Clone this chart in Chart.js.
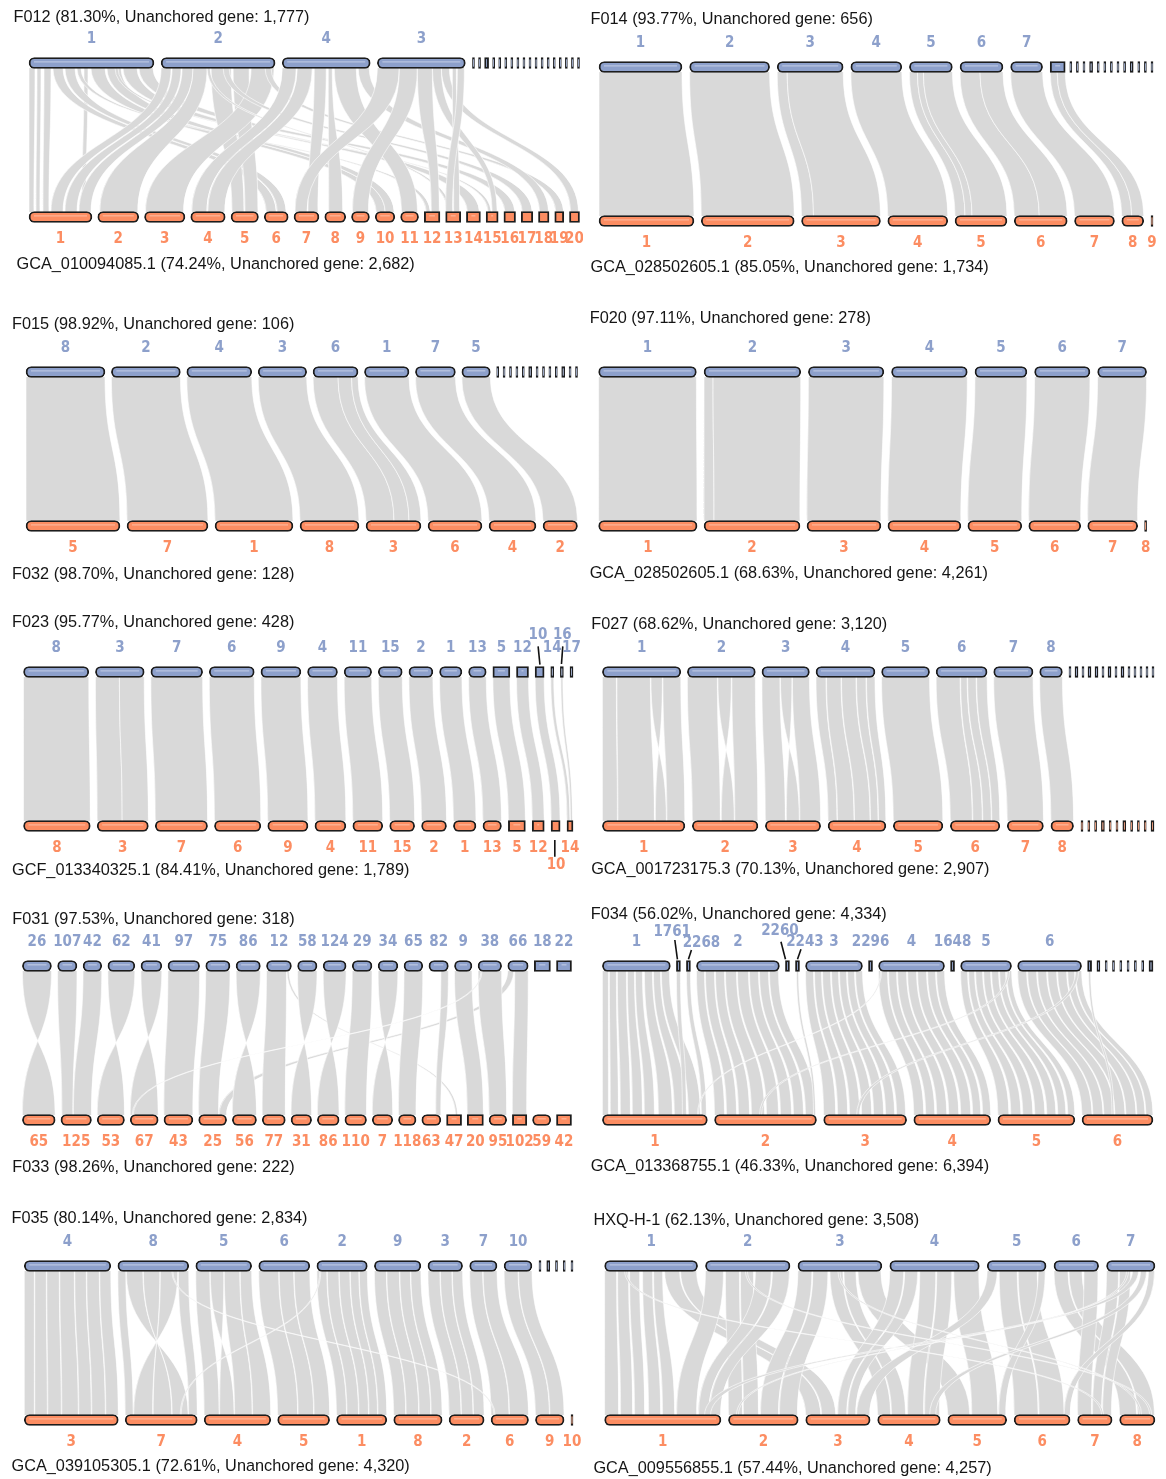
<!DOCTYPE html>
<html>
<head>
<meta charset="utf-8">
<title>Pairwise synteny overview</title>
<script src="https://cdn.jsdelivr.net/npm/chart.js@4.4.1/dist/chart.umd.min.js"></script>
<style>
  html, body { margin: 0; padding: 0; background: #ffffff; }
  #page { position: relative; width: 1166px; height: 1479px; overflow: hidden; background: #ffffff; }
  #page canvas { position: absolute; }
</style>
</head>
<body>
<div id="page"></div>
<script>
// Chromosome lengths are relative units; links are
// [topChromIndex, topStart, topEnd, bottomChromIndex, bottomStart, bottomEnd]
// with positions measured from the start of each chromosome.
// Indexes run over named chromosomes first, then unplaced scaffolds.

// ---------- F012 / GCA_010094085.1 ----------
const f012Title = 'F012 (81.30%, Unanchored gene: 1,777)';
const f012Sub = 'GCA_010094085.1 (74.24%, Unanchored gene: 2,682)';
const f012TopNames = ['1', '2', '4', '3'];
const f012TopLen = [125, 114, 88, 88];
const f012TopUnplaced = [2, 2, 4, 2, 2, 2, 2, 2, 2, 2, 2, 2, 2, 2, 2, 2, 2, 2];
const f012BotNames = ['1','2','3','4','5','6','7','8','9','10','11','12','13','14','15','16','17','18','19','20'];
const f012BotLen = [63, 41, 40.5, 34.5, 27.5, 24, 25, 21, 18, 19.6, 18, 15.6, 15, 14, 12, 11.6, 11.5, 10.5, 9, 10];
const f012BotUnplaced = [];
const f012Links = [
  [0, 0, 6, 0, 0, 5], [0, 8, 12, 0, 7, 11], [0, 15, 22, 0, 14, 20], [0, 55, 59, 0, 53, 57],
  [0, 24, 34, 5, 2, 12], [0, 36, 46, 5, 13, 22], [0, 62, 76, 9, 1, 10], [0, 78, 92, 9, 10, 19],
  [0, 94, 108, 13, 1, 13], [0, 110, 124, 15, 1, 11], [0, 48, 52, 11, 2, 6], [0, 86, 89, 14, 2, 5],
  [1, 0, 10, 0, 22, 34], [1, 11, 20, 0, 36, 48], [1, 21, 32, 0, 50, 62],
  [1, 32, 46, 1, 2, 40], [1, 50, 70, 4, 1, 13], [1, 72, 88, 4, 14, 27], [1, 90, 113, 2, 1, 39],
  [1, 62, 68, 16, 1, 11], [1, 104, 110, 18, 1, 9], [1, 46, 49, 12, 2, 5],
  [2, 0, 14, 3, 1, 16], [2, 15, 30, 3, 17, 34], [2, 46, 50, 7, 4, 18], [2, 52, 74, 10, 1, 17],
  [2, 76, 87, 17, 1, 10], [2, 32, 44, 6, 14, 24],
  [3, 0, 22, 6, 1, 13], [3, 22, 40, 8, 1, 17], [3, 40, 55, 11, 7, 15], [3, 55, 64, 14, 6, 11],
  [3, 64, 72, 19, 1, 9], [3, 75, 79, 12, 8, 14], [3, 80, 87, 12, 0, 7]
];

// ---------- F014 / GCA_028502605.1 ----------
const f014Title = 'F014 (93.77%, Unanchored gene: 656)';
const f014Sub = 'GCA_028502605.1 (85.05%, Unanchored gene: 1,734)';
const f014TopNames = ['1', '2', '3', '4', '5', '6', '7'];
const f014TopLen = [83, 80, 66, 51, 43, 43, 32];
const f014TopUnplaced = [15, 2, 2, 2, 3, 2, 2, 2, 2, 2, 3, 2, 2, 2];
const f014BotNames = ['1', '2', '3', '4', '5', '6', '7', '8', '9'];
const f014BotLen = [95, 93, 79, 60, 52, 53, 40, 22, 2];
const f014BotUnplaced = [];
const f014Links = [
  [0, 0, 83, 0, 0, 95], [1, 0, 80, 1, 0, 93],
  [2, 0, 10, 2, 0, 12], [2, 10, 66, 2, 12, 79],
  [3, 0, 51, 3, 0, 60],
  [4, 0, 8, 4, 0, 10], [4, 8, 14, 4, 10, 17], [4, 14, 43, 4, 17, 52],
  [5, 0, 20, 5, 0, 25], [5, 20, 43, 5, 25, 53],
  [6, 0, 32, 6, 0, 40],
  [7, 0, 7, 7, 0, 10], [7, 7, 15, 7, 10, 22]
];

// ---------- F015 / F032 ----------
const f015Title = 'F015 (98.92%, Unanchored gene: 106)';
const f015Sub = 'F032 (98.70%, Unanchored gene: 128)';
const f015TopNames = ['8', '2', '4', '3', '6', '1', '7', '5'];
const f015TopLen = [79, 69, 65, 48.5, 45, 44.6, 40, 28.5];
const f015TopUnplaced = [2, 2, 2, 2, 2, 3, 2, 2, 2, 2, 3, 2, 2];
const f015BotNames = ['5', '7', '1', '8', '3', '6', '4', '2'];
const f015BotLen = [94, 81, 78, 59, 55, 54, 47, 34.5];
const f015BotUnplaced = [];
const f015Links = [
  [0, 0, 79, 0, 0, 94], [1, 0, 69, 1, 0, 81], [2, 0, 65, 2, 0, 78], [3, 0, 48.5, 3, 0, 59],
  [4, 0, 25, 4, 0, 28], [4, 25, 38.5, 4, 28, 43], [4, 38.5, 45, 4, 43, 55],
  [5, 0, 44.6, 5, 0, 54], [6, 0, 40, 6, 0, 47], [7, 0, 28.5, 7, 0, 34.5]
];

// ---------- F020 / GCA_028502605.1 ----------
const f020Title = 'F020 (97.11%, Unanchored gene: 278)';
const f020Sub = 'GCA_028502605.1 (68.63%, Unanchored gene: 4,261)';
const f020TopNames = ['1', '2', '3', '4', '5', '6', '7'];
const f020TopLen = [97.8, 96.7, 75.5, 75.8, 52, 55.4, 49];
const f020TopUnplaced = [];
const f020BotNames = ['1', '2', '3', '4', '5', '6', '7', '8'];
const f020BotLen = [98.5, 96, 74, 73, 54, 52, 50, 2];
const f020BotUnplaced = [];
const f020Links = [
  [0, 0, 97.8, 0, 0, 98.5], [1, 0, 9, 1, 0, 10], [1, 9, 96.7, 1, 10, 96],
  [2, 0, 75.5, 2, 0, 74], [3, 0, 75.8, 3, 0, 73], [4, 0, 52, 4, 0, 54],
  [5, 0, 55.4, 5, 0, 52], [6, 0, 49, 6, 0, 50]
];

// ---------- F023 / GCF_013340325.1 ----------
const f023Title = 'F023 (95.77%, Unanchored gene: 428)';
const f023Sub = 'GCF_013340325.1 (84.41%, Unanchored gene: 1,789)';
const f023TopNames = ['8', '3', '7', '6', '9', '4', '11', '15', '2', '1', '13', '5', '12', '10', '14', '16', '17'];
const f023TopLen = [65.3, 48.8, 51.8, 45, 40, 30, 27.5, 24, 24, 22.4, 17.7, 17, 12, 9, 3, 3, 3];
const f023TopUnplaced = [];
const f023BotNames = ['8', '3', '7', '6', '9', '4', '11', '15', '2', '1', '13', '5', '12', '10', '14'];
const f023BotLen = [66.8, 51.2, 52.3, 46.4, 40.3, 31, 30, 25, 25, 22.6, 18.6, 17, 12, 9, 6];
const f023BotUnplaced = [];
const f023Links = [
  [0, 0, 65.3, 0, 0, 66.8], [1, 0, 24, 1, 0, 25], [1, 24, 48.8, 1, 25, 51.2],
  [2, 0, 51.8, 2, 0, 52.3], [3, 0, 45, 3, 0, 46.4], [4, 0, 40, 4, 0, 40.3],
  [5, 0, 30, 5, 0, 31], [6, 0, 27.5, 6, 0, 30], [7, 0, 24, 7, 0, 25],
  [8, 0, 24, 8, 0, 25], [9, 0, 22.4, 9, 0, 22.6], [10, 0, 17.7, 10, 0, 18.6],
  [11, 0, 17, 11, 0, 17], [12, 0, 12, 12, 0, 12], [13, 0, 9, 13, 0, 9],
  [14, 0, 3, 14, 0, 3], [15, 0.5, 2.5, 14, 3.5, 5.5]
];

// ---------- F027 / GCA_001723175.3 ----------
const f027Title = 'F027 (68.62%, Unanchored gene: 3,120)';
const f027Sub = 'GCA_001723175.3 (70.13%, Unanchored gene: 2,907)';
const f027TopNames = ['1', '2', '3', '4', '5', '6', '7', '8'];
const f027TopLen = [78.4, 68, 47.5, 59, 48, 51, 39.4, 22.8];
const f027TopUnplaced = [2, 3, 2, 3, 3, 2, 3, 2, 3, 2, 2, 2, 2, 2];
const f027BotNames = ['1', '2', '3', '4', '5', '6', '7', '8'];
const f027BotLen = [82.5, 65.6, 55.3, 57.8, 49.6, 49.5, 36.2, 22.7];
const f027BotUnplaced = [2, 2, 2, 3, 2, 2, 3, 2, 2, 2, 3];
const f027Links = [
  [0, 0, 14, 0, 0, 15], [0, 14.5, 48, 0, 15.5, 52], [0, 48.5, 60, 0, 64, 53], [0, 60.5, 78.4, 0, 64.5, 82.5],
  [1, 0, 30, 1, 0, 28], [1, 30.5, 44, 1, 42, 29], [1, 44.5, 68, 1, 42.5, 65.6],
  [2, 0, 18, 2, 0, 20], [2, 18.5, 30, 2, 34, 21], [2, 30.5, 47.5, 2, 34.5, 55.3],
  [3, 0, 10, 3, 0, 9], [3, 10.5, 25, 3, 9.5, 26], [3, 25.5, 40, 3, 26.5, 42], [3, 40.5, 50, 3, 42.5, 50], [3, 50.5, 59, 3, 50.5, 57.8],
  [4, 0, 48, 4, 0, 49.6],
  [5, 0, 24, 5, 0, 22], [5, 24.5, 31, 5, 22.5, 32], [5, 31.5, 40, 5, 32.5, 41], [5, 40.5, 51, 5, 41.5, 49.5],
  [6, 0, 39.4, 6, 0, 36.2], [7, 0, 22.8, 7, 0, 22.7]
];

// ---------- F031 / F033 ----------
const f031Title = 'F031 (97.53%, Unanchored gene: 318)';
const f031Sub = 'F033 (98.26%, Unanchored gene: 222)';
const f031TopNames = ['26', '107', '42', '62', '41', '97', '75', '86', '12', '58', '124', '29', '34', '65', '82', '9', '38', '66', '18', '22'];
const f031TopLen = [29.1, 19.4, 18.7, 27, 20.9, 31.7, 24.3, 24.3, 25, 19.5, 23, 19.8, 19.8, 18.8, 19.5, 17.5, 23.6, 20.5, 16.1, 15];
const f031TopUnplaced = [];
const f031BotNames = ['65', '125', '53', '67', '43', '25', '56', '77', '31', '86', '110', '7', '118', '63', '47', '20', '95', '102', '59', '42'];
const f031BotLen = [32.8, 30.6, 27.3, 28, 29, 28, 24.2, 23.1, 20.6, 21.8, 21.7, 20.5, 17.6, 19.1, 15, 16.1, 17.6, 14.4, 18.3, 15];
const f031BotUnplaced = [];
const f031Links = [
  [0, 0, 29.1, 0, 32.8, 0], [1, 0, 19.4, 1, 1, 12], [2, 0, 18.7, 1, 12.5, 30.6],
  [3, 0, 27, 2, 27.3, 0], [4, 0, 20.9, 3, 28, 0], [5, 0, 31.7, 4, 0, 29],
  [6, 0, 24.3, 5, 0, 20], [17, 0, 6, 5, 20.5, 28], [7, 0, 24.3, 6, 24.2, 0],
  [8, 0, 20, 7, 0, 23.1], [8, 20.5, 22.5, 14, 9, 11], [9, 0, 19.5, 8, 20.6, 0],
  [10, 0, 23, 9, 21.8, 0], [11, 0, 19.8, 10, 0, 21.7], [12, 0, 19.8, 11, 20.5, 0],
  [13, 0, 18.8, 12, 0, 17.6], [14, 12, 19.5, 13, 14, 19.1], [15, 0, 17.5, 15, 0, 16.1],
  [16, 0, 23.6, 16, 0, 17.6], [17, 7, 20.5, 17, 0, 14.4], [16, 3, 4, 3, 2, 3]
];

// ---------- F034 / GCA_013368755.1 ----------
const f034Title = 'F034 (56.02%, Unanchored gene: 4,334)';
const f034Sub = 'GCA_013368755.1 (46.33%, Unanchored gene: 6,394)';
const f034TopNames = ['1', '1761', '2268', '2', '2260', '2243', '3', '2296', '4', '1648', '5', '6'];
const f034TopLen = [68, 4, 4, 83, 4, 4, 57, 4, 66, 4, 51, 64];
const f034TopUnplaced = [4, 3, 2, 2, 2, 2, 2, 2, 4];
const f034BotNames = ['1', '2', '3', '4', '5', '6'];
const f034BotLen = [105, 102, 83, 77, 77, 71];
const f034BotUnplaced = [];
const f034Links = [
  [0, 0, 6, 0, 0, 6], [0, 7, 14, 0, 8, 16], [0, 15, 24, 0, 18, 28], [0, 25, 32, 0, 30, 40],
  [0, 33, 40, 0, 42, 52], [0, 42, 50, 0, 56, 70], [0, 51, 58, 0, 72, 84], [0, 59, 67, 0, 86, 98],
  [1, 0, 4, 0, 80, 84], [2, 0, 4, 0, 99, 104],
  [3, 0, 8, 1, 0, 10], [3, 9, 18, 1, 12, 22], [3, 19, 28, 1, 24, 35], [3, 29, 40, 1, 37, 50],
  [3, 41, 52, 1, 52, 64], [3, 53, 62, 1, 66, 77], [3, 63, 72, 1, 79, 89], [3, 73, 82, 1, 91, 101],
  [5, 1, 3, 1, 99, 101],
  [6, 0, 8, 2, 0, 12], [6, 9, 16, 2, 14, 24], [6, 17, 25, 2, 26, 36], [6, 26, 33, 2, 38, 48],
  [6, 34, 41, 2, 50, 60], [6, 42, 49, 2, 62, 71], [6, 50, 57, 2, 73, 82],
  [8, 0, 9, 3, 0, 10], [8, 10, 18, 3, 12, 21], [8, 19, 28, 3, 23, 33], [8, 29, 38, 3, 35, 45],
  [8, 39, 48, 3, 47, 57], [8, 49, 57, 3, 59, 67], [8, 58, 66, 3, 69, 77],
  [10, 0, 7, 4, 0, 11], [10, 8, 14, 4, 13, 23], [10, 15, 22, 4, 25, 35], [10, 23, 30, 4, 37, 47],
  [10, 31, 38, 4, 49, 58], [10, 39, 45, 4, 60, 68], [10, 46, 51, 4, 70, 77],
  [11, 0, 9, 5, 0, 10], [11, 10, 19, 5, 11, 21], [11, 20, 29, 5, 22, 32], [11, 30, 39, 5, 33, 43],
  [11, 40, 49, 5, 44, 54], [11, 50, 57, 5, 55, 63], [11, 58, 64, 5, 64, 71],
  [11, 58, 61, 2, 33, 36], [10, 47, 49, 1, 45, 47], [8, 2, 3, 0, 95, 96], [12, 1, 3, 5, 30, 32]
];

// ---------- F035 / GCA_039105305.1 ----------
const f035Title = 'F035 (80.14%, Unanchored gene: 2,834)';
const f035Sub = 'GCA_039105305.1 (72.61%, Unanchored gene: 4,320)';
const f035TopNames = ['4', '8', '5', '6', '2', '9', '3', '7', '10'];
const f035TopLen = [86.5, 70.9, 55.9, 51.1, 50.5, 46.5, 34.7, 27.4, 27.9];
const f035TopUnplaced = [2, 3, 2, 2, 2];
const f035BotNames = ['3', '7', '4', '5', '1', '8', '2', '6', '9', '10'];
const f035BotLen = [94, 72.1, 66.6, 52, 50.3, 48.5, 35.1, 37.5, 28.7, 2];
const f035BotUnplaced = [];
const f035Links = [
  [0, 0, 10, 0, 0, 10], [0, 10.5, 22, 0, 10.5, 23], [0, 22.5, 35, 0, 23.5, 37], [0, 35.5, 50, 0, 37.5, 54],
  [0, 50.5, 62, 0, 54.5, 67], [0, 62.5, 75, 0, 67.5, 81], [0, 75.5, 86.5, 0, 81.5, 94],
  [1, 0, 8, 1, 0, 8], [1, 8.5, 25, 1, 63, 47], [1, 25.5, 42, 1, 46.5, 28], [1, 42.5, 60, 1, 27.5, 8.5],
  [1, 60.5, 70.9, 1, 63.5, 72.1],
  [2, 0, 14, 2, 0, 15], [2, 14.5, 28, 2, 30, 15.5], [2, 28.5, 44, 2, 30.5, 48], [2, 44.5, 55.9, 2, 48.5, 66.6],
  [3, 0, 20, 3, 0, 20], [3, 20.5, 35, 3, 20.5, 36], [3, 35.5, 51.1, 3, 36.5, 52],
  [4, 0, 10, 4, 0, 10], [4, 10.5, 22, 4, 10.5, 22], [4, 22.5, 33, 4, 22.5, 32], [4, 33.5, 42, 4, 32.5, 41],
  [4, 42.5, 50.5, 4, 41.5, 50.3],
  [5, 0, 12, 5, 0, 12], [5, 12.5, 25, 5, 12.5, 25], [5, 25.5, 36, 5, 25.5, 37], [5, 36.5, 46.5, 5, 37.5, 48.5],
  [6, 0, 12, 6, 0, 12], [6, 12.5, 24, 6, 12.5, 24], [6, 24.5, 34.7, 6, 24.5, 35.1],
  [7, 0, 13, 7, 0, 18], [7, 13.5, 27.4, 7, 18.5, 37.5],
  [8, 0, 14, 8, 0, 14], [8, 14.5, 27.9, 8, 14.5, 28.7],
  [1, 54, 55, 7, 3, 4], [4, 3, 4, 1, 55, 56]
];

// ---------- HXQ-H-1 / GCA_009556855.1 ----------
const hxqTitle = 'HXQ-H-1 (62.13%, Unanchored gene: 3,508)';
const hxqSub = 'GCA_009556855.1 (57.44%, Unanchored gene: 4,257)';
const hxqTopNames = ['1', '2', '3', '4', '5', '6', '7'];
const hxqTopLen = [93, 84.6, 84, 89.6, 58.9, 44.7, 48.5];
const hxqTopUnplaced = [];
const hxqBotNames = ['1', '2', '3', '4', '5', '6', '7', '8'];
const hxqBotLen = [116.4, 69.8, 64.5, 62.7, 58.9, 56, 34.6, 35.4];
const hxqBotUnplaced = [];
const hxqLinks = [
  [0, 0, 12, 0, 0, 14], [0, 13, 24, 0, 16, 28], [0, 25, 35, 0, 30, 40], [0, 38, 48, 0, 44, 56], [0, 49, 58, 0, 58, 70],
  [0, 60, 75, 2, 0, 15], [0, 76, 92, 2, 16, 30],
  [1, 0, 18, 0, 72, 92], [1, 20, 34, 1, 0, 14], [1, 35, 48, 1, 15, 30], [1, 50, 66, 0, 94, 104], [1, 67, 84, 0, 105, 116],
  [2, 0, 14, 1, 32, 50], [2, 15, 30, 1, 51, 69], [2, 32, 45, 3, 0, 13], [2, 46, 58, 3, 14, 28], [2, 60, 83, 4, 0, 22],
  [3, 0, 14, 2, 32, 41], [3, 15, 28, 2, 42, 50], [3, 30, 46, 3, 30, 46], [3, 47, 62, 3, 47, 62], [3, 64, 89, 4, 24, 50],
  [4, 0, 10, 2, 51, 64], [4, 12, 30, 5, 0, 24], [4, 31, 50, 5, 25, 50], [4, 51, 58, 4, 51, 58],
  [5, 0, 14, 7, 0, 17], [5, 15, 28, 7, 18, 35], [5, 30, 44, 6, 0, 14],
  [6, 0, 12, 6, 15, 24], [6, 13, 24, 6, 25, 34], [6, 26, 32, 0, 100, 106], [6, 34, 40, 3, 52, 58], [6, 42, 48, 5, 50, 56],
  [0, 20, 22, 6, 24, 26], [2, 40, 42, 7, 20, 22], [1, 40, 42, 7, 30, 32], [6, 20, 22, 1, 8, 10]
];

// ---------- page layout (pixels) ----------
const PAGE_COL_W = 583;
const CANVAS_H = 310;
const PAD_TOP = 75;        // canvas offset of the upper genome row
const ROW_GAP = 154;       // distance between the two genome rows
const BAR_H = 11;
const TOP_COLOR = '#8da0cb';
const BOT_COLOR = '#fc8d62';
const TOP_SHINE = '#b9c4e0';
const BOT_SHINE = '#fdb497';
const RIBBON_COLOR = '#d9d9d9';

const panels = [
  { title: f012Title, sub: f012Sub, topNames: f012TopNames, topLen: f012TopLen, topUn: f012TopUnplaced,
    botNames: f012BotNames, botLen: f012BotLen, botUn: f012BotUnplaced, links: f012Links,
    frame: { col: 0, barY: 63.3, x0: 29, x1: 579.5, small: [4.06, 4], titleX: 13.5, titleDy: -45, subX: 16.5, subDy: 47.7 } },
  { title: f014Title, sub: f014Sub, topNames: f014TopNames, topLen: f014TopLen, topUn: f014TopUnplaced,
    botNames: f014BotNames, botLen: f014BotLen, botUn: f014BotUnplaced, links: f014Links,
    frame: { col: 1, barY: 66.7, x0: 599, x1: 1153, small: [4.6, 4], titleX: 590.5, titleDy: -47.4, subX: 590.5, subDy: 46.3 } },
  { title: f015Title, sub: f015Sub, topNames: f015TopNames, topLen: f015TopLen, topUn: f015TopUnplaced,
    botNames: f015BotNames, botLen: f015BotLen, botUn: f015BotUnplaced, links: f015Links,
    frame: { col: 0, barY: 371.7, x0: 26, x1: 577.5, small: [4.4, 4], titleX: 12, titleDy: -47.4, subX: 12, subDy: 48.3 } },
  { title: f020Title, sub: f020Sub, topNames: f020TopNames, topLen: f020TopLen, topUn: f020TopUnplaced,
    botNames: f020BotNames, botLen: f020BotLen, botUn: f020BotUnplaced, links: f020Links,
    frame: { col: 1, barY: 371.7, x0: 598.6, x1: 1146.6, small: [4, 4], titleX: 589.7, titleDy: -53.4, subX: 589.7, subDy: 47.6 } },
  { title: f023Title, sub: f023Sub, topNames: f023TopNames, topLen: f023TopLen, topUn: f023TopUnplaced,
    botNames: f023BotNames, botLen: f023BotLen, botUn: f023BotUnplaced, links: f023Links,
    frame: { col: 0, barY: 672.3, x0: 23.5, x1: 573, small: [4, 4], titleX: 12, titleDy: -49, subX: 12, subDy: 44.4,
      topShift: { '10': { at: [-1.7, -36.6], line: [-1.5, -25.6, 0.3, -7.3] }, '16': { at: [0.4, -36.6], line: [0.9, -25.6, -0.4, -8] } },
      botShift: { '10': { at: [0.5, 39], line: [-0.8, 14, -0.8, 30.7] } } } },
  { title: f027Title, sub: f027Sub, topNames: f027TopNames, topLen: f027TopLen, topUn: f027TopUnplaced,
    botNames: f027BotNames, botLen: f027BotLen, botUn: f027BotUnplaced, links: f027Links,
    frame: { col: 1, barY: 672.3, x0: 602.4, x1: 1154, small: [4, 4.8], titleX: 591.2, titleDy: -47.3, subX: 591.2, subDy: 43.7 } },
  { title: f031Title, sub: f031Sub, topNames: f031TopNames, topLen: f031TopLen, topUn: f031TopUnplaced,
    botNames: f031BotNames, botLen: f031BotLen, botUn: f031BotUnplaced, links: f031Links,
    frame: { col: 0, barY: 966, x0: 22.4, x1: 571.5, small: [4, 4], titleX: 12.3, titleDy: -46.5, subX: 12.3, subDy: 47.4 } },
  { title: f034Title, sub: f034Sub, topNames: f034TopNames, topLen: f034TopLen, topUn: f034TopUnplaced,
    botNames: f034BotNames, botLen: f034BotLen, botUn: f034BotUnplaced, links: f034Links,
    frame: { col: 1, barY: 966, x0: 602.4, x1: 1153, small: [5.3, 4], titleX: 590.8, titleDy: -51.5, subX: 590.8, subDy: 46.4,
      topShift: {
        '1761': { at: [-6.2, -34.3], line: [-3.6, -26, -1, -6.7] },
        '2268': { at: [13, -22.7], line: [3, -16, 0, -6.7] },
        '2260': { at: [-7.5, -35.3], line: [-6.5, -24.3, -2, -6.7] },
        '2243': { at: [7.5, -24.3], line: [3.5, -16.7, 0, -6.7] } } } },
  { title: f035Title, sub: f035Sub, topNames: f035TopNames, topLen: f035TopLen, topUn: f035TopUnplaced,
    botNames: f035BotNames, botLen: f035BotLen, botUn: f035BotUnplaced, links: f035Links,
    frame: { col: 0, barY: 1265.7, x0: 24.3, x1: 573, small: [5.75, 4], titleX: 11.5, titleDy: -47.4, subX: 11.5, subDy: 46.3 } },
  { title: hxqTitle, sub: hxqSub, topNames: hxqTopNames, topLen: hxqTopLen, topUn: hxqTopUnplaced,
    botNames: hxqBotNames, botLen: hxqBotLen, botUn: hxqBotUnplaced, links: hxqLinks,
    frame: { col: 1, barY: 1265.7, x0: 604.6, x1: 1155, small: [4, 4], titleX: 593.4, titleDy: -45, subX: 593.4, subDy: 48.5 } }
];

// Lay out one genome row: named chromosomes then unplaced scaffolds.
// The wide gap is solved so that the row fills the given span.
function layoutRow(names, lens, unplaced, span, smallGap) {
  const all = lens.concat(unplaced);
  const isUn = all.map((_, i) => i >= lens.length);
  let nWide = 0, nSmall = 0;
  for (let i = 1; i < all.length; i++) {
    if (isUn[i - 1] && isUn[i]) nSmall++; else nWide++;
  }
  const sum = all.reduce((a, b) => a + b, 0);
  let wide = nWide ? (span - sum - nSmall * smallGap) / nWide : 0;
  if (wide < 2) wide = 2;
  const starts = [];
  let pos = 0;
  for (let i = 0; i < all.length; i++) {
    if (i > 0) pos += (isUn[i - 1] && isUn[i]) ? smallGap : wide;
    starts.push(pos);
    pos += all[i];
  }
  return { names, lens: all, starts, total: pos };
}

function barDataset(row, yValue, axisId, fill) {
  return {
    data: row.lens.map((len, i) => ({ x: [row.starts[i], row.starts[i] + len], y: yValue })),
    xAxisID: axisId,
    yAxisID: 'y',
    backgroundColor: fill,
    borderColor: '#1c1c1c',
    borderWidth: 1.9,
    borderSkipped: false,
    borderRadius: (ctx) => {
      const sc = ctx.chart.scales[axisId];
      const raw = ctx.raw;
      if (!sc || !raw) return 6;
      const w = Math.abs(sc.getPixelForValue(raw.x[1]) - sc.getPixelForValue(raw.x[0]));
      return w < 17.2 ? 0 : 6;
    },
    barThickness: BAR_H,
    grouped: false,
    clip: false
  };
}

const page = document.getElementById('page');

function drawPanel(p) {
  const f = p.frame;
  const left = f.col * PAGE_COL_W;
  const topPx = f.barY - PAD_TOP;
  const canvas = document.createElement('canvas');
  canvas.width = PAGE_COL_W;
  canvas.height = CANVAS_H;
  canvas.style.left = left + 'px';
  canvas.style.top = topPx + 'px';
  canvas.style.width = PAGE_COL_W + 'px';
  canvas.style.height = CANVAS_H + 'px';
  page.appendChild(canvas);

  const span = f.x1 - f.x0;
  const top = layoutRow(p.topNames, p.topLen, p.topUn, span, f.small[0]);
  const bot = layoutRow(p.botNames, p.botLen, p.botUn, span, f.small[1]);

  const ribbons = {
    id: 'ribbons',
    beforeDatasetsDraw(chart) {
      const c = chart.ctx;
      const xt = chart.scales.xTop, xb = chart.scales.xBot, ys = chart.scales.y;
      const yT = ys.getPixelForValue(0) + BAR_H / 2 - 0.5;
      const yB = ys.getPixelForValue(1) - BAR_H / 2 + 0.5;
      const ym = (yT + yB) / 2;
      c.save();
      for (const [ti, t0, t1, bi, b0, b1] of p.links) {
        const a0 = xt.getPixelForValue(top.starts[ti] + t0);
        const a1 = xt.getPixelForValue(top.starts[ti] + t1);
        const c0 = xb.getPixelForValue(bot.starts[bi] + b0);
        const c1 = xb.getPixelForValue(bot.starts[bi] + b1);
        c.beginPath();
        c.moveTo(a0, yT);
        c.bezierCurveTo(a0, ym, c0, ym, c0, yB);
        c.lineTo(c1, yB);
        c.bezierCurveTo(c1, ym, a1, ym, a1, yT);
        c.closePath();
        c.fillStyle = RIBBON_COLOR;
        c.fill();
        c.beginPath();
        c.moveTo(a0, yT);
        c.bezierCurveTo(a0, ym, c0, ym, c0, yB);
        c.moveTo(c1, yB);
        c.bezierCurveTo(c1, ym, a1, ym, a1, yT);
        c.strokeStyle = 'rgba(255,255,255,0.85)';
        c.lineWidth = 0.7;
        c.stroke();
      }
      c.restore();
    }
  };

  const labels = {
    id: 'labels',
    afterDatasetsDraw(chart) {
      const c = chart.ctx;
      const xt = chart.scales.xTop, xb = chart.scales.xBot, ys = chart.scales.y;
      const yTop = ys.getPixelForValue(0), yBot = ys.getPixelForValue(1);
      c.save();

      // soft highlight line along each chromosome body
      [TOP_SHINE, BOT_SHINE].forEach((shine, di) => {
        chart.getDatasetMeta(di).data.forEach((el) => {
          const { x, y, base } = el.getProps(['x', 'y', 'base'], true);
          const x0 = Math.min(x, base), x1 = Math.max(x, base);
          if (x1 - x0 < 12) return;
          c.strokeStyle = shine;
          c.lineWidth = 1.3;
          c.beginPath();
          c.moveTo(x0 + 5, y - 1.2);
          c.lineTo(x1 - 5, y - 1.2);
          c.stroke();
        });
      });

      c.font = 'bold 15px "DejaVu Sans Condensed", "DejaVu Sans", sans-serif';
      c.textAlign = 'center';
      c.textBaseline = 'middle';
      const drawRow = (row, scale, yBar, dy, color, shifts) => {
        row.names.forEach((name, i) => {
          const cx = scale.getPixelForValue(row.starts[i] + row.lens[i] / 2);
          const s = shifts && shifts[name];
          c.fillStyle = color;
          if (s) {
            c.fillText(name, cx + s.at[0], yBar + s.at[1]);
            c.strokeStyle = '#111111';
            c.lineWidth = 1.6;
            c.beginPath();
            c.moveTo(cx + s.line[0], yBar + s.line[1]);
            c.lineTo(cx + s.line[2], yBar + s.line[3]);
            c.stroke();
          } else {
            c.fillText(name, cx, yBar + dy);
          }
        });
      };
      drawRow(top, xt, yTop, -24, TOP_COLOR, f.topShift);
      drawRow(bot, xb, yBot, 22.5, BOT_COLOR, f.botShift);

      c.font = '16.3px "Liberation Sans", Arial, sans-serif';
      c.textAlign = 'left';
      c.fillStyle = '#151515';
      c.fillText(p.title, f.titleX - left, yTop + f.titleDy);
      c.fillText(p.sub, f.subX - left, yBot + f.subDy);
      c.restore();
    }
  };

  new Chart(canvas, {
    type: 'bar',
    data: {
      datasets: [
        barDataset(top, 0, 'xTop', TOP_COLOR),
        barDataset(bot, 1, 'xBot', BOT_COLOR)
      ]
    },
    options: {
      indexAxis: 'y',
      responsive: false,
      animation: false,
      devicePixelRatio: 1,
      events: [],
      layout: {
        padding: {
          left: f.x0 - left,
          right: left + PAGE_COL_W - f.x1,
          top: PAD_TOP,
          bottom: CANVAS_H - PAD_TOP - ROW_GAP
        }
      },
      scales: {
        xTop: { type: 'linear', axis: 'x', position: 'top', min: 0, max: top.total, display: false },
        xBot: { type: 'linear', axis: 'x', position: 'bottom', min: 0, max: bot.total, display: false },
        y: { type: 'linear', min: 0, max: 1, reverse: true, offset: false, display: false }
      },
      plugins: { legend: { display: false }, tooltip: { enabled: false }, title: { display: false } }
    },
    plugins: [ribbons, labels]
  });
}

panels.forEach(drawPanel);
</script>
</body>
</html>
